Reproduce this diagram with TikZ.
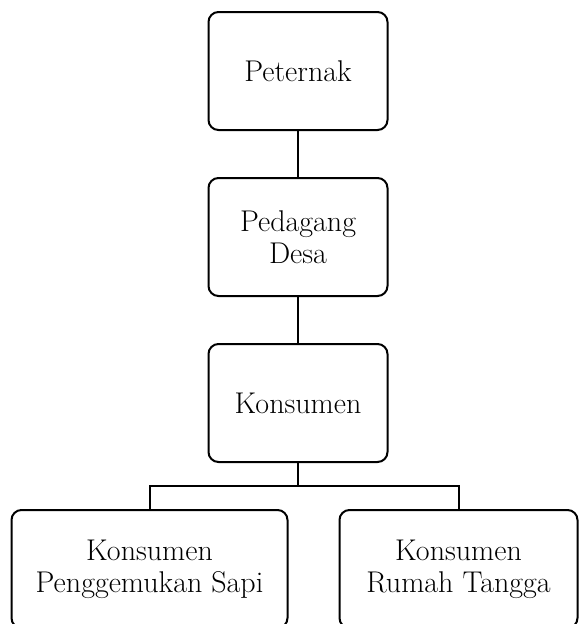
\documentclass[tikz,border=0pt]{standalone}
\usetikzlibrary{trees}

\begin{document}
\begin{tikzpicture}[level distance=166pt, line width=2pt,
      edge from parent fork down,
      every node/.style = {shape=rectangle, rounded corners=10pt,
        draw, align=center,
        minimum width=179pt, minimum height=118pt,
        font=\fontsize{30}{32}\selectfont},
      level 3/.style = {sibling distance=309pt}]
    \useasboundingbox (0,0) rectangle (579pt,-624pt);
    \node (peternak) at (298pt,-71pt) {Peternak}
    child { node (pedagang) {Pedagang\\Desa}
      child { node (konsumen) {Konsumen}
        child { node[minimum width=276pt, xshift=6pt] (penggemukan) {Konsumen\\Penggemukan Sapi}}
        child { node[minimum width=238pt, xshift=6pt] (rumah) {Konsumen\\Rumah Tangga}}}};
  \end{tikzpicture}
\end{document}
